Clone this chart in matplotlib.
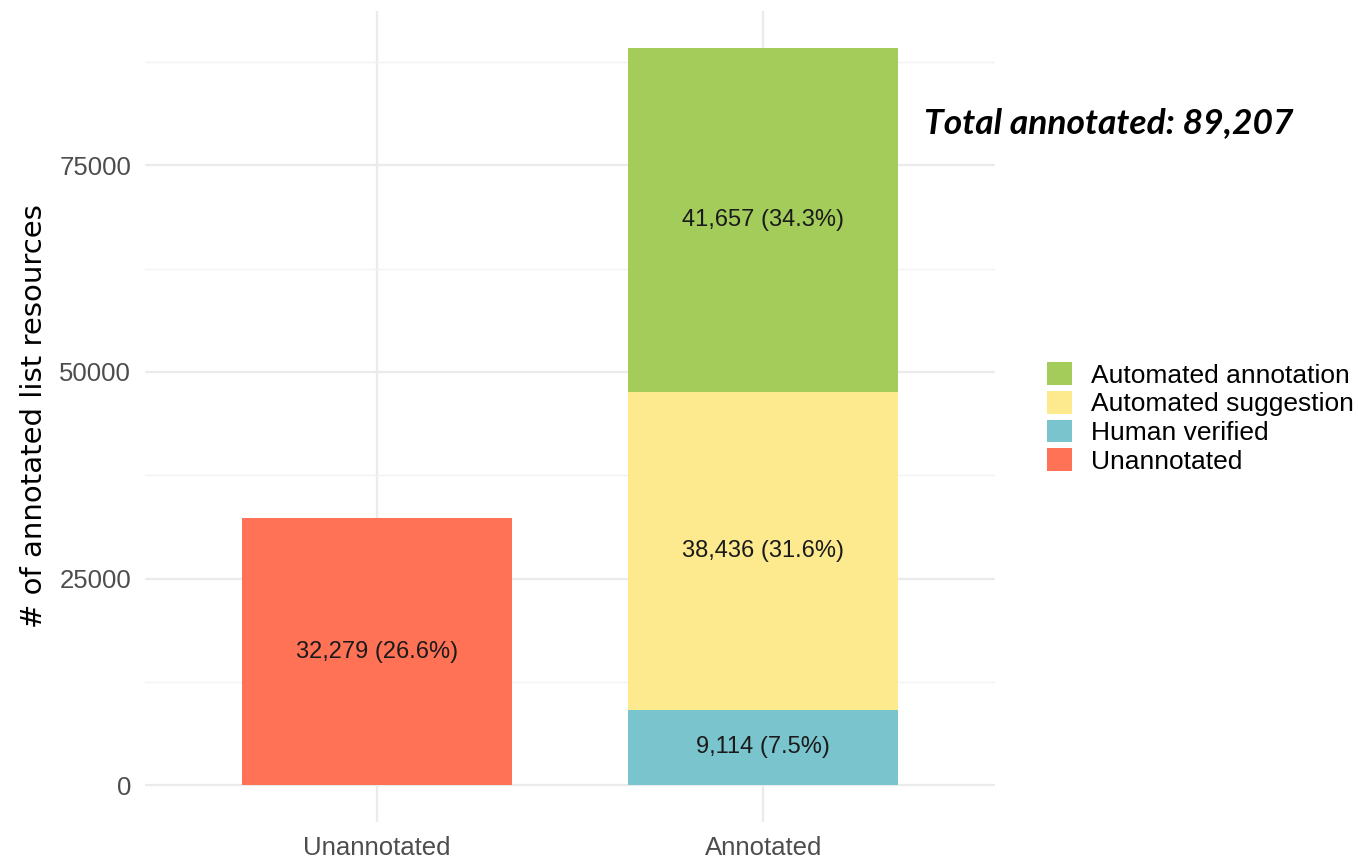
import matplotlib
matplotlib.use('Agg')
import matplotlib.pyplot as plt
from matplotlib.patches import Patch
import numpy as np

plt.rcParams['font.family'] = ['Liberation Sans', 'DejaVu Sans']

# datos
categorias = ['Unannotated', 'Annotated']
sin_anotar = [32279, 0]
humano = [0, 9114]
sugerencia = [0, 38436]
automatica = [0, 41657]
porcentajes = {'sin_anotar': 26.6, 'humano': 7.5, 'sugerencia': 31.6, 'automatica': 34.3}
total_anotado = 89207

colores = {'automatica': '#A3CC5B', 'sugerencia': '#FDE98E',
           'humano': '#7AC5CD', 'sin_anotar': '#FF7256'}
etiquetas = {'automatica': 'Automated annotation', 'sugerencia': 'Automated suggestion',
             'humano': 'Human verified', 'sin_anotar': 'Unannotated'}

fig = plt.figure(figsize=(13.58, 8.6), dpi=100)
ax = fig.add_axes([145/1358, 38/860, 850/1358, 811/860])

x = np.arange(1, len(categorias) + 1)
ancho = 0.7
series = [('sin_anotar', sin_anotar), ('humano', humano),
          ('sugerencia', sugerencia), ('automatica', automatica)]
base = np.zeros(len(categorias))
for clave, vals in series:
    vals = np.array(vals, dtype=float)
    ax.bar(x, vals, width=ancho, bottom=base, color=colores[clave], zorder=2, linewidth=0)
    for xi, b, v in zip(x, base, vals):
        if v > 0:
            ax.text(xi, b + v / 2, f'{int(v):,} ({porcentajes[clave]}%)',
                    ha='center', va='center', fontsize=17, color='#1a1a1a', zorder=3)
    base = base + vals

ax.set_xlim(0.4, 2.6)
ymax = max(base)
ax.set_ylim(-0.05 * ymax, 1.05 * ymax)
ax.set_yticks([0, 25000, 50000, 75000])
ax.set_yticks([12500, 37500, 62500, 87500], minor=True)
ax.set_xticks(x)
ax.set_xticklabels(categorias)
ax.grid(which='major', color='#EBEBEB', linewidth=1.6, zorder=0)
ax.grid(which='minor', axis='y', color='#F2F2F2', linewidth=1.0, zorder=0)
for s in ax.spines.values():
    s.set_visible(False)
ax.tick_params(which='both', length=0, labelsize=18.5, labelcolor='#4D4D4D', pad=10)
ax.set_ylabel('# of annotated list resources', fontsize=21,
              family=['Liberation Sans Narrow', 'DejaVu Sans'], labelpad=8)

fig.text(924/1358, 1 - 123/860, f'Total annotated: {total_anotado:,}',
         fontsize=25.5, fontweight='bold', fontstyle='italic',
         family=['Lato', 'DejaVu Sans'], ha='left', va='center')

manijas = [Patch(facecolor=colores[k], edgecolor='none', label=etiquetas[k])
           for k in ['automatica', 'sugerencia', 'humano', 'sin_anotar']]
fig.legend(handles=manijas, loc='center left', bbox_to_anchor=(1036/1358, 1 - 418/860),
           frameon=False, fontsize=19, handlelength=0.95, handleheight=0.95,
           labelspacing=0.12, handletextpad=0.75, borderaxespad=0)

fig.savefig('out.png', dpi=100)
